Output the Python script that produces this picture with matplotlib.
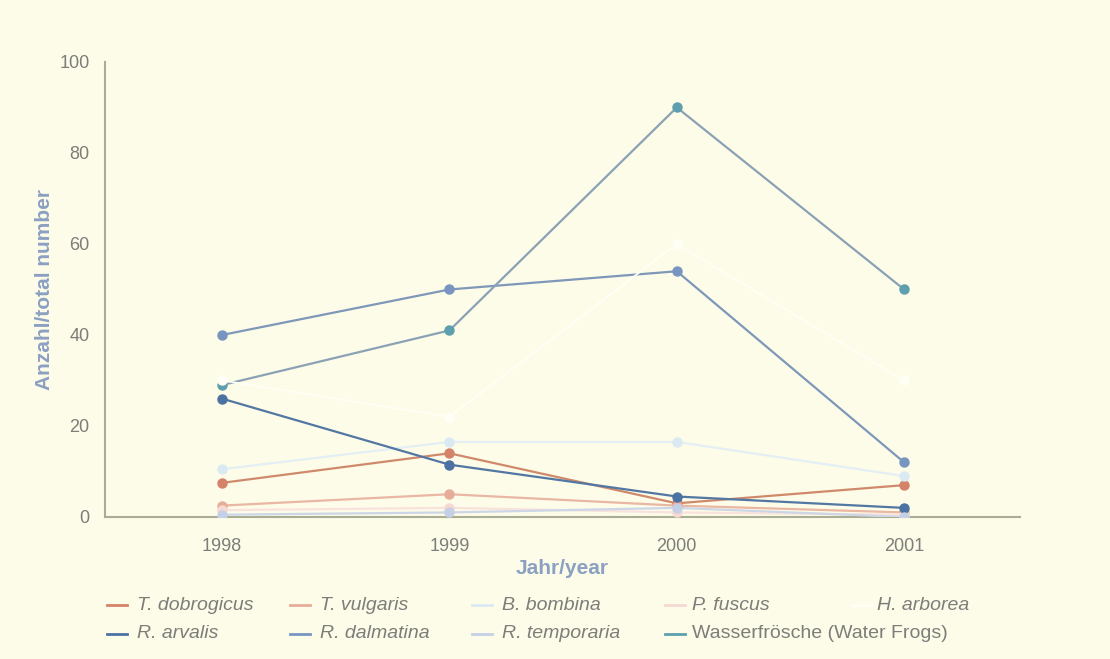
import matplotlib
matplotlib.use("Agg")
import matplotlib.pyplot as plt
from matplotlib.lines import Line2D

plt.rcParams['font.family'] = ['Liberation Sans', 'DejaVu Sans']

years = [1998, 1999, 2000, 2001]

# counts per species
t_dobrogicus = [7.5, 14, 3, 7]
t_vulgaris = [2.5, 5, 2.5, 1]
b_bombina = [10.5, 16.5, 16.5, 9]
p_fuscus = [1.5, 2, 1, 0.5]
h_arborea = [30, 22, 60, 30]
r_arvalis = [26, 11.5, 4.5, 2]
r_dalmatina = [40, 50, 54, 12]
r_temporaria = [0.5, 1, 2, 0]
wasserfroesche = [29, 41, 90, 50]

series = [
    ("T. dobrogicus", t_dobrogicus, "#cf8a6c", "#d4826a", True),
    ("T. vulgaris", t_vulgaris, "#e9b7a3", "#e6ad98", True),
    ("B. bombina", b_bombina, "#e3eff4", "#dbeaf2", True),
    ("P. fuscus", p_fuscus, "#f9e2dc", "#f6d9d2", True),
    ("H. arborea", h_arborea, "#fffff6", "#fffff6", True),
    ("R. arvalis", r_arvalis, "#5277a3", "#4c72a3", True),
    ("R. dalmatina", r_dalmatina, "#7f97b9", "#7895c2", True),
    ("R. temporaria", r_temporaria, "#ccd6e6", "#c5d0e6", True),
    ("Wasserfrösche (Water Frogs)", wasserfroesche, "#8aa2b4", "#5e9fae", False),
]

bg = "#fdfce8"
fig = plt.figure(figsize=(11.1, 6.59), dpi=100, facecolor=bg)
ax = fig.add_axes([0.0946, 0.2155, 0.8244, 0.6905], facecolor=bg)

# draw order: pale H. arborea over the others
order = [0, 1, 2, 3, 5, 6, 7, 8, 4]
for i in order:
    name, vals, lc, mc, ital = series[i]
    lw = 1.3 if i == 4 else 1.6
    ax.plot(years, vals, color=lc, lw=lw, marker="o", markersize=6.5,
            markerfacecolor=mc, markeredgecolor=mc, zorder=3)

ax.set_xlim(1997.485, 2001.51)
ax.set_ylim(0, 100)
ax.set_xticks(years)
ax.set_yticks([0, 20, 40, 60, 80, 100])
ax.tick_params(length=0, labelsize=13, labelcolor="#7d7d7a")
ax.tick_params(axis="y", pad=11)
ax.tick_params(axis="x", pad=15)

for s in ["top", "right"]:
    ax.spines[s].set_visible(False)
for s in ["left", "bottom"]:
    ax.spines[s].set_color("#a9ad94")
    ax.spines[s].set_linewidth(1.5)

ax.set_xlabel("Jahr/year", fontsize=15, fontweight="bold", color="#8ba0c2", labelpad=3)
ax.set_ylabel("Anzahl/total number", fontsize=15, fontweight="bold", color="#8ba0c2", labelpad=4)

# legend laid out by hand in two rows
col_x = [107, 290, 472, 665, 852]
row_y = [605, 634]
slots = [(0, 0), (0, 1), (0, 2), (0, 3), (0, 4), (1, 0), (1, 1), (1, 2), (1, 3)]
W, H = 1110, 659
for (name, vals, lc, mc, ital), (r, c) in zip(series, slots):
    x0 = col_x[c]
    y = 1 - row_y[r] / H
    fig.add_artist(Line2D([x0 / W, (x0 + 20) / W], [y, y], color=mc,
                          lw=2, transform=fig.transFigure))
    tx = x0 + 30 if c < 3 else x0 + 27
    if c == 4:
        tx = x0 + 25
    fig.text(tx / W, y, name, fontsize=14, color="#7d7d7a",
             style="italic" if ital else "normal", va="center", ha="left")

fig.savefig("out.png", dpi=100, facecolor=bg)
